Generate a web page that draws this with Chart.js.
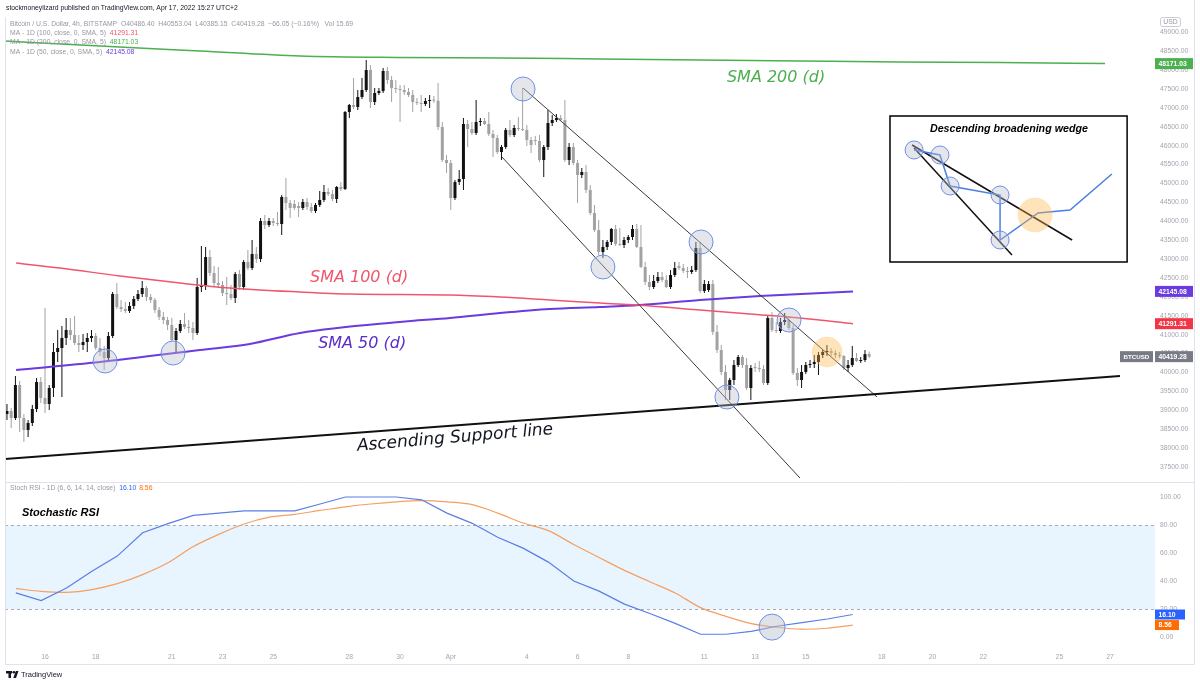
<!DOCTYPE html>
<html>
<head>
<meta charset="utf-8">
<script src="https://cdn.jsdelivr.net/npm/chart.js@4.4.0/dist/chart.umd.min.js"></script>
<style>
  html, body { margin: 0; padding: 0; background: #fff; }
  #wrap { position: relative; width: 1200px; height: 684px; overflow: hidden; }
  #price { position: absolute; left: 0; top: 0; }
  #rsi { position: absolute; left: 0; top: 482px; }
</style>
</head>
<body>
<div id="wrap">
  <canvas id="price" width="1200" height="482"></canvas>
  <canvas id="rsi" width="1200" height="202"></canvas>
</div>
<script>
// x axis unit: day of March (Apr 1 = 32)
const candleStart = 14.5;      // Mar 14 12:00
const candleStep = 1 / 6;      // 4h candles

const opens = [38902,38982,38796,39669,38796,38479,38664,39034,39748,39325,
  39166,39590,40542,40648,40912,41124,40992,40780,40727,40806,
  40912,40965,40648,40542,40383,40965,42076,41733,41680,41627,
  41759,41944,42076,42235,41997,41918,41653,41468,41389,41257,
  40859,41098,41283,41203,41177,41045,42262,42288,43055,42632,
  42368,42315,42103,42076,41971,42605,42262,42923,42764,43134,
  43002,44008,43902,44008,43955,43928,44643,44484,44457,44404,
  44351,44510,44378,44272,44431,44563,44775,44722,44590,44907,
  44854,46891,47077,47024,47288,47473,48002,47156,47394,47447,
  47976,47738,47526,47499,47473,47420,47341,47156,47130,47103,
  47182,47209,47190,46494,45621,45542,44616,45039,45119,46573,
  46441,46335,46626,46653,46573,46309,46203,45833,45965,46415,
  46282,46468,46441,46415,46150,46150,46124,45621,45965,46600,
  46679,46732,46679,45621,45965,45542,45225,45304,44828,44219,
  43769,43187,43320,43452,43796,43399,43373,43505,43584,43796,
  43320,42791,42394,42262,42421,42526,42447,42262,42579,42817,
  42764,42685,42658,42711,43293,42156,42182,42341,41071,40595,
  40013,39537,39801,40198,40410,40198,39589,40145,40119,40092,
  39722,41441,41124,41098,41336,41389,41177,39986,39801,40013,
  40198,40225,40277,40463,40542,40569,40516,40463,40436,40119,
  40198,40383,40304,40330,40486.40];
const highs = [39166,39061,39907,39775,38902,38743,39140,39854,39881,41706,
  39669,40780,41124,41230,41441,41441,41494,40992,41018,41045,
  41124,41045,40912,40700,41071,42129,42368,41918,41865,41865,
  42023,42182,42421,42288,42076,41970,41733,41600,41468,41441,
  41177,41389,41574,41389,41336,42499,43346,43320,43240,42817,
  42791,42421,42526,42315,42658,42711,42976,43240,43505,43320,
  44087,44166,44087,44087,44245,44696,45145,44563,44563,44510,
  44590,44616,44484,44484,44802,44960,44880,44828,44933,45039,
  46918,47103,47790,47473,47790,48267,48135,47526,47526,48055,
  48082,47843,47738,47606,47606,47526,47473,47262,47341,47262,
  47341,47315,47659,46626,45754,45621,45092,45357,46732,46679,
  46626,47209,46732,46732,46891,46415,46282,46018,46468,46679,
  46547,46759,47526,46547,46229,46256,46282,46018,46944,46812,
  46838,46812,47209,46071,46071,45621,45410,45489,44960,44431,
  44034,43505,43505,43822,43902,43822,43584,43637,43902,43928,
  43902,42923,42579,42579,42658,42658,42579,42711,42923,42923,
  42870,42791,42817,43452,43452,42447,42421,42447,41257,40727,
  40198,39854,40330,40463,40463,40383,40198,40251,40304,40198,
  41494,41600,41336,41441,41574,41494,41257,40119,40198,40277,
  40330,40463,40542,40595,40727,40648,40595,40542,40463,40330,
  40700,40516,40410,40595,40553.04];
const lows = [38743,38532,38743,38426,38161,38294,38584,38955,39193,38929,
  39008,39352,40277,39352,40727,40859,40727,40542,40595,40542,
  40806,40595,40436,40066,40330,40912,41680,41600,41574,41574,
  41680,41892,41997,41892,41839,41574,41389,41283,41124,40833,
  40542,41045,41151,41045,40859,40992,42129,42182,42552,42288,
  42235,42023,41786,41918,41839,42182,42182,42711,42711,42897,
  42923,43795,43848,43875,43875,43637,44298,44087,44298,44113,
  44298,44298,44219,44219,44378,44510,44669,44537,44484,44802,
  44828,46732,46970,46944,47235,47420,46997,47077,47341,47394,
  47632,47156,47394,46626,47341,47288,46891,47077,46891,47050,
  46997,47130,46415,45568,45278,44298,44563,44960,44828,45965,
  46282,46282,46520,46547,46256,45700,45780,45621,45912,46229,
  46229,46388,46388,45992,45806,46018,45568,45172,45886,46520,
  46626,46653,45568,45489,45489,44484,45145,44748,44166,43716,
  43108,43029,43240,43373,43346,43346,43293,43425,43505,43293,
  42764,42315,42182,42209,42368,42394,42235,42209,42526,42711,
  42632,42500,42605,42658,42103,42103,42129,40992,40516,39934,
  39272,39272,39669,40145,40119,39537,39272,40013,40013,39669,
  39669,41071,41045,41045,41257,41124,39934,39643,39589,39960,
  40119,40119,39934,40383,40436,40436,40383,40383,40066,40013,
  40145,40277,40251,40277,40385.15];
const closes = [38982,38796,39669,38796,38479,38664,39034,39748,39325,39166,
  39590,40542,40648,40912,41124,40992,40780,40727,40806,40912,
  40965,40648,40542,40383,40965,42076,41733,41680,41627,41759,
  41944,42076,42235,41997,41918,41653,41468,41389,41257,40859,
  41098,41283,41203,41177,41045,42262,42288,43055,42632,42368,
  42315,42103,42076,41971,42605,42262,42923,42764,43134,43002,
  44008,43902,44008,43955,43928,44643,44484,44351,44351,44351,
  44510,44378,44272,44431,44563,44775,44722,44590,44907,44854,
  46891,47077,47024,47288,47473,48002,47156,47394,47447,47976,
  47738,47526,47499,47473,47420,47341,47156,47130,47103,47182,
  47209,47190,46494,45621,45542,44616,45039,45119,46573,46441,
  46335,46626,46653,46573,46309,46203,45833,45965,46415,46282,
  46468,46441,46415,46150,46018,46124,45621,45965,46600,46679,
  46732,46679,45621,45965,45542,45225,45304,44828,44219,43769,
  43187,43320,43452,43796,43399,43373,43505,43584,43796,43320,
  42791,42394,42262,42421,42526,42447,42262,42579,42764,42764,
  42685,42658,42711,43293,42156,42341,42341,41071,40595,40013,
  39537,39801,40198,40410,40198,39589,40119,40119,40092,39722,
  41441,41124,41098,41336,41389,41177,39986,39801,40013,40198,
  40225,40277,40463,40542,40569,40516,40463,40436,40119,40198,
  40383,40304,40330,40486,40419.28];

// daily moving averages
const ma200Days = [14.42, 18.17, 22.11, 26.06, 30.0, 33.94, 37.88, 41.83, 45.77, 49.71, 53.66, 57.80];
const ma200Values = [48769, 48637, 48505, 48373, 48333, 48320, 48293, 48267, 48240, 48214, 48200, 48171.03];
const ma100Days = [14.86, 16.59, 18.96, 21.32, 23.29, 26.06, 28.03, 31.97, 33.94, 35.91, 37.88, 39.86, 41.83, 43.80, 45.77, 47.86];
const ma100Values = [42896, 42764, 42552, 42367, 42235, 42129, 42076, 42050, 41997, 41918, 41838, 41759, 41653, 41547, 41441, 41291.31];
const ma50Days = [14.86, 18.17, 22.11, 24.08, 26.06, 30.0, 31.97, 33.94, 35.91, 37.88, 39.46, 41.83, 44.19, 47.86];
const ma50Values = [40066, 40277, 40595, 40754, 41045, 41336, 41441, 41574, 41680, 41732, 41785, 41918, 42023, 42145.08];

// drawings
const supportDays = [14.42, 58.39];
const supportPrices = [37712, 39907];
const upperDays = [34.85, 48.81];
const upperPrices = [47526, 39352];
const lowerDays = [34.02, 45.77];
const lowerPrices = [45700, 37209];
const touchDays = [18.37, 21.05, 34.85, 38.00, 41.87, 42.89, 45.34];
const touchPrices = [40304, 40515, 47500, 42791, 43452, 39351, 41388];
const breakDays = [46.84];
const breakPrices = [40542];

// inset sketch
const insetBoxDays = [49.32, 58.67];
const insetBoxPrices = [46785, 42923];
const wedgePathDays = [50.27, 51.29, 51.69, 53.66, 53.66, 55.16, 56.42, 58.07];
const wedgePathPrices = [45886, 45754, 44933, 44695, 43505, 44219, 44298, 45251];
const wedgeTouchDays = [50.27, 51.29, 51.69, 53.66, 53.66];
const wedgeTouchPrices = [45886, 45754, 44933, 44695, 43505];
const wedgeTopDays = [50.19, 56.50];
const wedgeTopPrices = [46018, 43505];
const wedgeBotDays = [50.27, 54.13];
const wedgeBotPrices = [45939, 43108];
const wedgeBreakDays = [55.04];
const wedgeBreakPrices = [44166];

// stoch rsi (daily)
const rsiDays = [14.85, 15.85, 16.85, 17.85, 18.85, 19.85, 20.85, 21.85, 22.85, 23.85, 24.85, 25.85,
  26.85, 27.85, 28.85, 29.85, 30.85, 31.85, 32.85, 33.85, 34.85, 35.85, 36.85, 37.85, 38.85, 39.85,
  40.85, 41.85, 42.85, 43.85, 44.85, 45.85, 46.85, 47.85];
const stochK = [31.5, 26.0, 35, 47.0, 57.8, 74.5, 81, 86.9, 88.5, 90.1, 90.1, 90.1,
  95, 100, 100, 100, 98, 88.5, 81.2, 71.3, 63.5, 53.5, 40, 32.8, 23.5, 16.8,
  9.8, 2.0, 2.0, 4.0, 7.7, 10.3, 12.9, 16.10];
const stochD = [34.6, 32.6, 31.9, 33.9, 38.1, 44.6, 53.0, 64.6, 73.3, 80.7, 85.6, 87.6,
  90.4, 93, 95, 96.5, 97.4, 96.5, 94.5, 88.5, 81.4, 76, 66.1, 56.8, 47.6, 39.5,
  31.5, 21, 14.8, 9.6, 7.0, 5.6, 6.3, 8.56];
const rsiCrossDays = [44.67];
const rsiCrossValues = [7.1];
const rsiBand = [20, 80];

const priceTicks = [37500, 38000, 38500, 39000, 39500, 40000, 40500, 41000, 41500, 42000, 42500, 43000,
  43500, 44000, 44500, 45000, 45500, 46000, 46500, 47000, 47500, 48000, 48500, 49000];
const rsiTicks = [0, 20, 40, 60, 80, 100];
const dateTickDays = [16, 18, 21, 23, 25, 28, 30, 32, 35, 37, 39, 42, 44, 46, 49, 51, 53, 56, 58];
const dateTickLabels = ['16', '18', '21', '23', '25', '28', '30', 'Apr', '4', '6', '8', '11', '13', '15', '18', '20', '22', '25', '27'];

const xMin = 14.4227, xMax = 59.77;

const upColor = '#111111';
const downColor = '#a2a2a2';
const axisColor = '#a3a6af';
const smallFont = '6.8px "Liberation Sans"';
const green = '#4caf50', red = '#f0566b', purple = '#6b3be0';

const candleDays = closes.map((c, i) => candleStart + i * candleStep);
function pts(xs, ys) { return xs.map((x, i) => ({ x: x, y: ys[i] })); }
function candleColor(ctx) {
  const i = ctx.dataIndex;
  return closes[i] >= opens[i] ? upColor : downColor;
}

function lineSet(xs, ys, color, width, order, extra) {
  return Object.assign({
    type: 'line', data: pts(xs, ys), borderColor: color, borderWidth: width,
    pointRadius: 0, fill: false, order: order, cubicInterpolationMode: 'monotone'
  }, extra || {});
}
function circleSet(xs, ys, r, fillColor, strokeColor, order) {
  return {
    type: 'line', data: pts(xs, ys), showLine: false, pointRadius: r,
    pointBackgroundColor: fillColor, pointBorderColor: strokeColor, pointBorderWidth: 1, order: order
  };
}

function drawBox(ctx, x, y, w, h, bg, text, color) {
  ctx.fillStyle = bg;
  ctx.fillRect(x, y - h / 2, w, h);
  ctx.fillStyle = color || '#fff';
  ctx.textAlign = 'left';
  ctx.textBaseline = 'middle';
  ctx.fillText(text, x + 3.5, y + 0.5);
}

const pricePlugin = {
  id: 'priceDecor',
  beforeDatasetsDraw(chart) {
    const { ctx, scales: { x, y } } = chart;
    const x0 = x.getPixelForValue(insetBoxDays[0]), x1 = x.getPixelForValue(insetBoxDays[1]);
    const y0 = y.getPixelForValue(insetBoxPrices[0]), y1 = y.getPixelForValue(insetBoxPrices[1]);
    ctx.save();
    ctx.fillStyle = '#fff';
    ctx.fillRect(x0, y0, x1 - x0, y1 - y0);
    ctx.strokeStyle = '#000';
    ctx.lineWidth = 1.5;
    ctx.strokeRect(x0, y0, x1 - x0, y1 - y0);
    ctx.restore();
  },
  afterDatasetsDraw(chart) {
    const { ctx, scales: { x, y } } = chart;
    ctx.save();
    ctx.textBaseline = 'middle';
    ctx.textAlign = 'left';
    ctx.font = 'italic 16px "DejaVu Sans"';
    ctx.fillStyle = green;
    ctx.fillText('SMA 200 (d)', x.getPixelForValue(42.89), y.getPixelForValue(47791));
    ctx.fillStyle = red;
    ctx.fillText('SMA 100 (d)', x.getPixelForValue(26.45), y.getPixelForValue(42500));
    ctx.fillStyle = '#5a2fc8';
    ctx.fillText('SMA 50 (d)', x.getPixelForValue(26.77), y.getPixelForValue(40753));

    ctx.save();
    ctx.translate(x.getPixelForValue(32.17), y.getPixelForValue(38267));
    ctx.rotate(-0.085);
    ctx.font = 'italic 17px "DejaVu Sans"';
    ctx.fillStyle = '#131722';
    ctx.textAlign = 'center';
    ctx.fillText('Ascending Support line', 0, 0);
    ctx.restore();

    ctx.font = 'bold italic 10.7px "Liberation Sans"';
    ctx.fillStyle = '#000';
    ctx.textAlign = 'center';
    ctx.fillText('Descending broadening wedge', x.getPixelForValue(54.01), y.getPixelForValue(46441));
    ctx.restore();
  },
  afterDraw(chart) {
    const { ctx, scales: { y } } = chart;
    ctx.save();
    // header and legend
    ctx.textBaseline = 'middle';
    ctx.textAlign = 'left';
    ctx.font = smallFont;
    ctx.fillStyle = '#131722';
    ctx.fillText('stockmoneylizard published on TradingView.com, Apr 17, 2022 15:27 UTC+2', 6, 8);
    ctx.fillStyle = '#9598a1';
    const last = closes.length - 1;
    const head = 'Bitcoin / U.S. Dollar, 4h, BITSTAMP  O' + opens[last].toFixed(2) + '  H' + highs[last].toFixed(2) +
      '  L' + lows[last].toFixed(2) + '  C' + closes[last].toFixed(2) + '  \u221266.05 (\u22120.16%)   Vol 15.69';
    ctx.fillText(head, 10, 24);
    const legend = [
      ['MA - 1D (100, close, 0, SMA, 5)', ma100Values[ma100Values.length - 1], red, 33],
      ['MA - 1D (200, close, 0, SMA, 5)', ma200Values[ma200Values.length - 1], green, 42],
      ['MA - 1D (50, close, 0, SMA, 5)', ma50Values[ma50Values.length - 1], purple, 52]
    ];
    legend.forEach(l => {
      ctx.fillStyle = '#9598a1';
      ctx.fillText(l[0], 10, l[3]);
      const w = ctx.measureText(l[0] + ' ').width;
      ctx.fillStyle = l[2];
      ctx.fillText(l[1].toFixed(2), 10 + w + 2, l[3]);
    });

    // USD marker
    ctx.strokeStyle = '#c9ccd3';
    ctx.lineWidth = 1;
    ctx.beginPath();
    ctx.roundRect(1160.5, 17.5, 20, 9, 2);
    ctx.stroke();
    ctx.fillStyle = '#9598a1';
    ctx.textAlign = 'center';
    ctx.fillText('USD', 1170.5, 22.5);

    // right axis value boxes
    ctx.font = 'bold ' + smallFont;
    drawBox(ctx, 1155, y.getPixelForValue(ma200Values[ma200Values.length - 1]), 38, 11, green, ma200Values[ma200Values.length - 1].toFixed(2));
    drawBox(ctx, 1155, y.getPixelForValue(ma50Values[ma50Values.length - 1]), 38, 11, purple, ma50Values[ma50Values.length - 1].toFixed(2));
    drawBox(ctx, 1155, y.getPixelForValue(ma100Values[ma100Values.length - 1]), 38, 11, '#f23645', ma100Values[ma100Values.length - 1].toFixed(2));
    const ly = y.getPixelForValue(closes[last]);
    drawBox(ctx, 1155, ly, 38, 11, '#787b86', closes[last].toFixed(2));
    ctx.font = 'bold 6.2px "Liberation Sans"';
    drawBox(ctx, 1120, ly, 33, 11, '#787b86', 'BTCUSD');

    // frame
    ctx.strokeStyle = '#e0e3eb';
    ctx.beginPath();
    ctx.moveTo(5.5, 17); ctx.lineTo(5.5, 482);
    ctx.moveTo(1194.5, 0); ctx.lineTo(1194.5, 482);
    ctx.stroke();
    ctx.restore();
  }
};

new Chart(document.getElementById('price'), {
  type: 'bar',
  data: {
    datasets: [
      circleSet(touchDays, touchPrices, 12, 'rgba(185,190,202,0.38)', '#6f8fe8', 0),
      circleSet(breakDays, breakPrices, 15, 'rgba(255,183,77,0.38)', 'rgba(255,183,77,0.2)', 0),
      circleSet(wedgeTouchDays, wedgeTouchPrices, 9, 'rgba(185,190,202,0.38)', '#6f8fe8', 0),
      circleSet(wedgeBreakDays, wedgeBreakPrices, 17, 'rgba(255,183,77,0.38)', 'rgba(255,183,77,0.2)', 0),
      lineSet(supportDays, supportPrices, '#111', 2, 1),
      lineSet(upperDays, upperPrices, '#3a3a3a', 1, 1),
      lineSet(lowerDays, lowerPrices, '#3a3a3a', 1, 1),
      lineSet(wedgePathDays, wedgePathPrices, '#4a7fe0', 1.5, 1, { cubicInterpolationMode: 'default', tension: 0 }),
      lineSet(wedgeTopDays, wedgeTopPrices, '#111', 1.5, 1),
      lineSet(wedgeBotDays, wedgeBotPrices, '#111', 1.5, 1),
      lineSet(ma200Days, ma200Values, green, 1.5, 2),
      lineSet(ma100Days, ma100Values, red, 1.5, 2),
      lineSet(ma50Days, ma50Values, purple, 2, 2),
      {
        type: 'bar', data: candleDays.map((d, i) => ({ x: d, y: [opens[i], closes[i]] })),
        backgroundColor: candleColor, grouped: false, maxBarThickness: 3, minBarLength: 1, order: 3
      },
      {
        type: 'bar', data: candleDays.map((d, i) => ({ x: d, y: [lows[i], highs[i]] })),
        backgroundColor: candleColor, grouped: false, maxBarThickness: 1, order: 4
      }
    ]
  },
  options: {
    responsive: false,
    animation: false,
    layout: { autoPadding: false, padding: { left: 5, right: 6, top: 17, bottom: 0 } },
    plugins: { legend: { display: false }, tooltip: { enabled: false } },
    scales: {
      x: { type: 'linear', min: xMin, max: xMax, display: false, offset: false },
      y: {
        type: 'linear', position: 'right', min: 37103, max: 49404,
        grid: { display: false, drawTicks: false }, border: { display: false },
        ticks: { color: axisColor, font: { family: 'Liberation Sans', size: 6.8 }, padding: 5, crossAlign: 'near',
          callback: v => v.toFixed(2) },
        afterBuildTicks: s => { s.ticks = priceTicks.map(v => ({ value: v })); },
        afterFit: s => { s.width = 39; s.paddingTop = 0; s.paddingBottom = 0; }
      }
    }
  },
  plugins: [pricePlugin]
});

const rsiPlugin = {
  id: 'rsiDecor',
  beforeDatasetsDraw(chart) {
    const { ctx, chartArea: a, scales: { y } } = chart;
    const yTop = y.getPixelForValue(rsiBand[1]), yBot = y.getPixelForValue(rsiBand[0]);
    ctx.save();
    ctx.fillStyle = 'rgba(33,150,243,0.1)';
    ctx.fillRect(a.left, yTop, a.right - a.left, yBot - yTop);
    ctx.strokeStyle = '#a9acb5';
    ctx.lineWidth = 1;
    ctx.setLineDash([3, 3]);
    ctx.beginPath();
    ctx.moveTo(a.left, Math.round(yTop) + 0.5); ctx.lineTo(a.right, Math.round(yTop) + 0.5);
    ctx.moveTo(a.left, Math.round(yBot) + 0.5); ctx.lineTo(a.right, Math.round(yBot) + 0.5);
    ctx.stroke();
    ctx.restore();
  },
  afterDraw(chart) {
    const { ctx, scales: { x, y } } = chart;
    ctx.save();
    ctx.textBaseline = 'middle';
    ctx.textAlign = 'left';
    ctx.font = smallFont;
    ctx.fillStyle = '#9598a1';
    const lbl = 'Stoch RSI - 1D (6, 6, 14, 14, close)';
    ctx.fillText(lbl, 10, 6);
    let w = 10 + ctx.measureText(lbl + ' ').width + 2;
    const kTxt = stochK[stochK.length - 1].toFixed(2), dTxt = stochD[stochD.length - 1].toFixed(2);
    ctx.fillStyle = '#2962ff';
    ctx.fillText(kTxt, w, 6);
    w += ctx.measureText(kTxt + ' ').width + 1;
    ctx.fillStyle = '#ff6d00';
    ctx.fillText(dTxt, w, 6);

    ctx.font = 'bold italic 11px "Liberation Sans"';
    ctx.fillStyle = '#000';
    ctx.fillText('Stochastic RSI', x.getPixelForValue(15.09), y.getPixelForValue(88.6));

    ctx.font = 'bold ' + smallFont;
    drawBox(ctx, 1155, y.getPixelForValue(stochK[stochK.length - 1]), 30, 10, '#2962ff', kTxt);
    drawBox(ctx, 1155, y.getPixelForValue(stochD[stochD.length - 1]), 24, 10, '#ff6d00', dTxt);

    // frame and pane separator
    ctx.strokeStyle = '#e0e3eb';
    ctx.lineWidth = 1;
    ctx.beginPath();
    ctx.moveTo(5.5, 0); ctx.lineTo(5.5, 182.5);
    ctx.moveTo(1194.5, 0); ctx.lineTo(1194.5, 182.5);
    ctx.moveTo(5.5, 182.5); ctx.lineTo(1194.5, 182.5);
    ctx.moveTo(5.5, 0.5); ctx.lineTo(1194.5, 0.5);
    ctx.stroke();

    // TradingView mark
    ctx.fillStyle = '#131722';
    ctx.fillRect(6, 189, 6, 2.5);
    ctx.fillRect(8.5, 189, 2.5, 7);
    ctx.beginPath();
    ctx.arc(13.8, 190.3, 1.3, 0, Math.PI * 2);
    ctx.fill();
    ctx.beginPath();
    ctx.moveTo(15.8, 189); ctx.lineTo(18.5, 189); ctx.lineTo(16, 196); ctx.lineTo(13.3, 196);
    ctx.closePath();
    ctx.fill();
    ctx.font = '7.5px "Liberation Sans"';
    ctx.fillText('TradingView', 21, 193);
    ctx.restore();
  }
};

new Chart(document.getElementById('rsi'), {
  type: 'line',
  data: {
    datasets: [
      circleSet(rsiCrossDays, rsiCrossValues, 13, 'rgba(185,190,202,0.45)', '#6f8fe8', 0),
      { data: pts(rsiDays, stochK), borderColor: '#5b7ee5', borderWidth: 1.2, pointRadius: 0, tension: 0, order: 1 },
      { data: pts(rsiDays, stochD), borderColor: '#f5a060', borderWidth: 1.2, pointRadius: 0, tension: 0.3, order: 2 }
    ]
  },
  options: {
    responsive: false,
    animation: false,
    layout: { autoPadding: false, padding: { left: 5, right: 6, top: 0, bottom: 0 } },
    plugins: { legend: { display: false }, tooltip: { enabled: false } },
    scales: {
      x: {
        type: 'linear', min: xMin, max: xMax, offset: false,
        grid: { display: false, drawTicks: false }, border: { display: false },
        ticks: { color: axisColor, font: { family: 'Liberation Sans', size: 6.8 }, padding: 6,
          autoSkip: false, maxRotation: 0, callback: (v, i) => dateTickLabels[i] },
        afterBuildTicks: s => { s.ticks = dateTickDays.map(v => ({ value: v })); },
        afterFit: s => { s.height = 37; s.paddingLeft = 0; s.paddingRight = 0; }
      },
      y: {
        type: 'linear', position: 'right', min: -7.1, max: 110.7,
        grid: { display: false, drawTicks: false }, border: { display: false },
        ticks: { color: axisColor, font: { family: 'Liberation Sans', size: 6.8 }, padding: 5, crossAlign: 'near',
          callback: v => v.toFixed(2) },
        afterBuildTicks: s => { s.ticks = rsiTicks.map(v => ({ value: v })); },
        afterFit: s => { s.width = 39; s.paddingTop = 0; s.paddingBottom = 0; }
      }
    }
  },
  plugins: [rsiPlugin]
});
</script>
</body>
</html>
